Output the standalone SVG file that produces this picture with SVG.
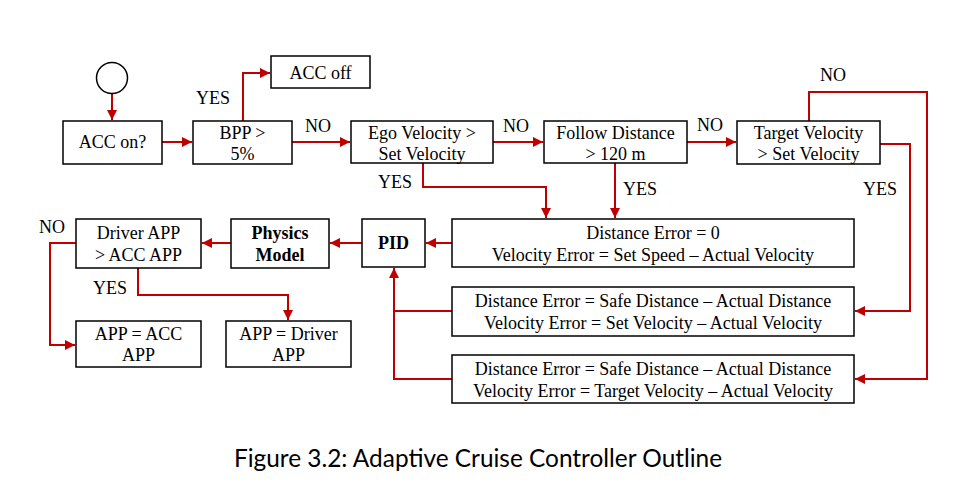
<svg xmlns="http://www.w3.org/2000/svg" width="969" height="492" viewBox="0 0 969 492">
<style>
.box{fill:#fff;stroke:#000;stroke-width:1.5}
.c{fill:none;stroke:#C00000;stroke-width:2}
</style>
<defs>
<marker id="ah" viewBox="0 0 10 10" refX="10" refY="5" markerWidth="5" markerHeight="5" orient="auto" markerUnits="strokeWidth">
<path d="M0,0 L10,5 L0,10 Z" fill="#C00000"/>
</marker>
</defs>
<rect width="969" height="492" fill="#fff"/>
<g id="connectors">
<path class="c" d="M112,94 V120" marker-end="url(#ah)"/>
<path class="c" d="M162,142 H192" marker-end="url(#ah)"/>
<path class="c" d="M243,121 V73 H270" marker-end="url(#ah)"/>
<path class="c" d="M292,142 H350" marker-end="url(#ah)"/>
<path class="c" d="M493,142 H543" marker-end="url(#ah)"/>
<path class="c" d="M687,142 H736" marker-end="url(#ah)"/>
<path class="c" d="M809,121 V92 H927 V379 H855" marker-end="url(#ah)"/>
<path class="c" d="M880,144 H910 V311 H855" marker-end="url(#ah)"/>
<path class="c" d="M423,163 V187 H546 V218" marker-end="url(#ah)"/>
<path class="c" d="M615,163 V218" marker-end="url(#ah)"/>
<path class="c" d="M452,243 H426" marker-end="url(#ah)"/>
<path class="c" d="M452,311 H394"/>
<path class="c" d="M452,379 H394 V268" marker-end="url(#ah)"/>
<path class="c" d="M362,243 H330" marker-end="url(#ah)"/>
<path class="c" d="M231,243 H202" marker-end="url(#ah)"/>
<path class="c" d="M76,243 H50 V345 H75" marker-end="url(#ah)"/>
<path class="c" d="M138,268 V295 H288 V320" marker-end="url(#ah)"/>
</g>
<g id="start"><circle cx="112" cy="78" r="15.5" fill="#fff" stroke="#000" stroke-width="1.5"/></g>
<g id="acc-on"><rect class="box" x="63" y="121" width="99" height="43"/><text font-family="Liberation Serif" font-size="18" text-anchor="middle" x="112.5" y="148">ACC on?</text></g>
<g id="bpp"><rect class="box" x="193" y="121" width="99" height="43"/><text font-family="Liberation Serif" font-size="18" text-anchor="middle" x="242.5" y="139">BPP &gt;</text><text font-family="Liberation Serif" font-size="18" text-anchor="middle" x="242.5" y="160">5%</text></g>
<g id="acc-off"><rect class="box" x="271" y="56" width="99" height="32"/><text font-family="Liberation Serif" font-size="18" text-anchor="middle" x="320.5" y="79">ACC off</text></g>
<g id="ego"><rect class="box" x="351" y="121" width="142" height="42"/><text font-family="Liberation Serif" font-size="18" text-anchor="middle" x="422" y="139">Ego Velocity &gt;</text><text font-family="Liberation Serif" font-size="18" text-anchor="middle" x="422" y="160">Set Velocity</text></g>
<g id="follow"><rect class="box" x="544" y="121" width="143" height="42"/><text font-family="Liberation Serif" font-size="18" text-anchor="middle" x="615.5" y="139">Follow Distance</text><text font-family="Liberation Serif" font-size="18" text-anchor="middle" x="615.5" y="160">&gt; 120 m</text></g>
<g id="target"><rect class="box" x="737" y="121" width="143" height="43"/><text font-family="Liberation Serif" font-size="18" text-anchor="middle" x="808.5" y="139">Target Velocity</text><text font-family="Liberation Serif" font-size="18" text-anchor="middle" x="808.5" y="160">&gt; Set Velocity</text></g>
<g id="err0"><rect class="box" x="452" y="219" width="402" height="48"/><text font-family="Liberation Serif" font-size="18" text-anchor="middle" x="653" y="239">Distance Error = 0</text><text font-family="Liberation Serif" font-size="18" text-anchor="middle" x="653" y="261">Velocity Error = Set Speed – Actual Velocity</text></g>
<g id="err1"><rect class="box" x="452" y="287" width="402" height="49"/><text font-family="Liberation Serif" font-size="18" text-anchor="middle" x="653" y="307">Distance Error = Safe Distance – Actual Distance</text><text font-family="Liberation Serif" font-size="18" text-anchor="middle" x="653" y="329">Velocity Error = Set Velocity – Actual Velocity</text></g>
<g id="err2"><rect class="box" x="452" y="355" width="402" height="48"/><text font-family="Liberation Serif" font-size="18" text-anchor="middle" x="653" y="375">Distance Error = Safe Distance – Actual Distance</text><text font-family="Liberation Serif" font-size="18" text-anchor="middle" x="653" y="397">Velocity Error = Target Velocity – Actual Velocity</text></g>
<g id="pid"><rect class="box" x="362" y="219" width="63" height="48"/><text font-family="Liberation Serif" font-size="18" text-anchor="middle" x="393.5" y="249" font-weight="bold">PID</text></g>
<g id="physics"><rect class="box" x="231" y="219" width="98" height="49"/><text font-family="Liberation Serif" font-size="18" text-anchor="middle" x="280" y="239" font-weight="bold">Physics</text><text font-family="Liberation Serif" font-size="18" text-anchor="middle" x="280" y="261" font-weight="bold">Model</text></g>
<g id="driver"><rect class="box" x="76" y="219" width="125" height="49"/><text font-family="Liberation Serif" font-size="18" text-anchor="middle" x="138.5" y="239">Driver APP</text><text font-family="Liberation Serif" font-size="18" text-anchor="middle" x="138.5" y="261">&gt; ACC APP</text></g>
<g id="app-acc"><rect class="box" x="76" y="321" width="125" height="46"/><text font-family="Liberation Serif" font-size="18" text-anchor="middle" x="138.5" y="340">APP = ACC</text><text font-family="Liberation Serif" font-size="18" text-anchor="middle" x="138.5" y="361">APP</text></g>
<g id="app-driver"><rect class="box" x="226" y="321" width="125" height="46"/><text font-family="Liberation Serif" font-size="18" text-anchor="middle" x="288.5" y="340">APP = Driver</text><text font-family="Liberation Serif" font-size="18" text-anchor="middle" x="288.5" y="361">APP</text></g>
<g id="labels">
<text font-family="Liberation Serif" font-size="18" text-anchor="middle" x="213" y="104">YES</text>
<text font-family="Liberation Serif" font-size="18" text-anchor="middle" x="318" y="132">NO</text>
<text font-family="Liberation Serif" font-size="18" text-anchor="middle" x="516" y="132">NO</text>
<text font-family="Liberation Serif" font-size="18" text-anchor="middle" x="710" y="131">NO</text>
<text font-family="Liberation Serif" font-size="18" text-anchor="middle" x="833" y="81">NO</text>
<text font-family="Liberation Serif" font-size="18" text-anchor="middle" x="880" y="195">YES</text>
<text font-family="Liberation Serif" font-size="18" text-anchor="middle" x="395" y="188">YES</text>
<text font-family="Liberation Serif" font-size="18" text-anchor="middle" x="640" y="195">YES</text>
<text font-family="Liberation Serif" font-size="18" text-anchor="middle" x="52" y="233">NO</text>
<text font-family="Liberation Serif" font-size="18" text-anchor="middle" x="110" y="294">YES</text>
</g>
<text x="478" y="467" font-family="Lato" font-size="24.4" text-anchor="middle">Figure 3.2: Adaptive Cruise Controller Outline</text>
</svg>
